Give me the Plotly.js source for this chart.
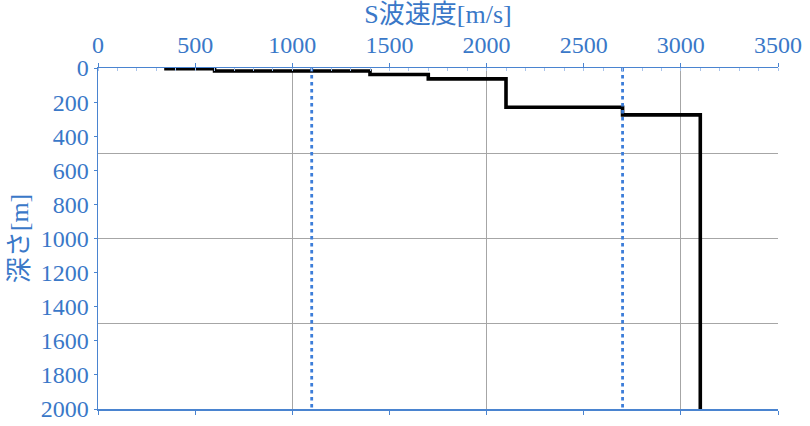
<!DOCTYPE html>
<html>
<head>
<meta charset="utf-8">
<script src="https://cdn.plot.ly/plotly-3.0.1.min.js"></script>
<style>html,body{margin:0;padding:0;background:#fff;}#chart{width:810px;height:426px;}</style>
</head>
<body>
<div id="chart"></div>
<script>
// S-wave velocity profile (layers)
const layerVs = [350, 600, 1400, 1700, 2100, 2700, 3100];      // m/s
const layerTop = [0, 4, 18, 38, 64, 230, 275];                  // m, depth of layer top
const profileBottom = 2000;                                     // m
// reference velocities (dotted lines)
const refVs = [1100, 2700];
const refDepth = [0, 2000];

const xTicks = [0, 500, 1000, 1500, 2000, 2500, 3000, 3500];
const yTicks = [0, 200, 400, 600, 800, 1000, 1200, 1400, 1600, 1800, 2000];

const blue = '#3a78c8';
const axisBlue = '#4a84d0';
const fontFam = '"Liberation Serif", "Noto Sans CJK JP", serif';

const profX = layerVs.concat([layerVs[layerVs.length - 1]]);
const profY = layerTop.concat([profileBottom]);

const traces = [
  {
    x: profX, y: profY, xaxis: 'x', yaxis: 'y',
    mode: 'lines', line: {shape: 'vh', color: '#000', width: 3.6},
    hoverinfo: 'skip', showlegend: false
  }
];
refVs.forEach(v => traces.push({
  x: [v, v], y: refDepth, xaxis: 'x2', yaxis: 'y2',
  mode: 'lines', line: {color: '#3c7dd9', width: 2.8, dash: '3.5px,3.5px'},
  hoverinfo: 'skip', showlegend: false
}));

const layout = {
  width: 810, height: 426,
  margin: {l: 98, r: 32, t: 68, b: 17},
  paper_bgcolor: '#fff', plot_bgcolor: '#fff',
  font: {family: fontFam, color: blue, size: 24},
  xaxis: {
    side: 'top', range: [0, 3500], tickvals: xTicks, ticktext: xTicks.map(String),
    showgrid: false, zeroline: false, showline: true, linecolor: axisBlue, linewidth: 1.5,
    ticks: 'outside', ticklen: 4, tickcolor: axisBlue,
    minor: {dtick: 100, ticks: 'inside', ticklen: 3, tickcolor: '#a9c3ea', showgrid: false},
    tickfont: {family: fontFam, size: 24, color: blue},
    title: {text: 'S波速度[m/s]', font: {family: fontFam, size: 26, color: blue}, standoff: 8},
    fixedrange: true
  },
  yaxis: {
    range: [2000, 0], tickvals: yTicks, ticktext: yTicks.map(String),
    showgrid: false, zeroline: false, showline: true, linecolor: axisBlue, linewidth: 1.5,
    ticks: 'outside', ticklen: 3, tickcolor: axisBlue,
    tickfont: {family: fontFam, size: 24, color: blue},
    title: {text: '深さ[m]', font: {family: fontFam, size: 26, color: blue}, standoff: 4},
    fixedrange: true
  },
  xaxis2: {
    overlaying: 'x', side: 'bottom', anchor: 'y2', range: [0, 3500], dtick: 1000, tick0: 0,
    showgrid: true, gridcolor: '#a6a6a6', gridwidth: 1, zeroline: false,
    showline: true, linecolor: axisBlue, linewidth: 1.5,
    ticks: 'outside', ticklen: 4, tickcolor: axisBlue, showticklabels: false,
    minor: {dtick: 500, ticks: 'outside', ticklen: 4, tickcolor: axisBlue, showgrid: false},
    fixedrange: true
  },
  yaxis2: {
    overlaying: 'y', side: 'left', anchor: 'x2', range: [2000, 0], dtick: 500, tick0: 0,
    showgrid: true, gridcolor: '#a6a6a6', gridwidth: 1, zeroline: false,
    showline: false, ticks: '', showticklabels: false, fixedrange: true
  }
};

Plotly.newPlot('chart', traces, layout, {displayModeBar: false, staticPlot: true});
</script>
</body>
</html>
